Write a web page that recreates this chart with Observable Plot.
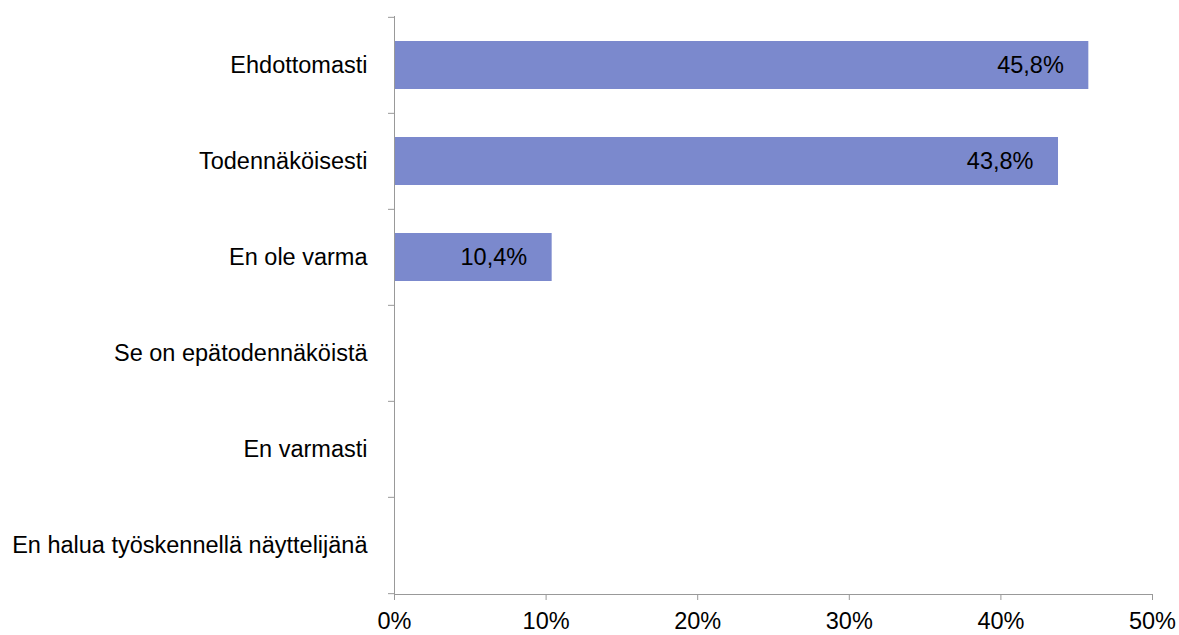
<!DOCTYPE html>
<html>
<head>
<meta charset="utf-8">
<script src="https://cdn.jsdelivr.net/npm/d3@7"></script>
<script src="https://cdn.jsdelivr.net/npm/@observablehq/plot@0.6"></script>
<style>
  html, body { margin: 0; padding: 0; background: #fff; }
  #chart { width: 1179px; height: 635px; }
</style>
</head>
<body>
<div id="chart"></div>
<script>
const categories = ["Ehdottomasti", "Todennäköisesti", "En ole varma", "Se on epätodennäköistä", "En varmasti", "En halua työskennellä näyttelijänä"];
const values = [45.8, 43.8, 10.4, 0, 0, 0];
const xTicks = [0, 10, 20, 30, 40, 50];

const data = categories.map((c, i) => ({category: c, value: values[i]}));
const shown = data.filter(d => d.value > 0);

const W = 1179, H = 635;
const mTop = 16, mBottom = 41;
const step = (H - mTop - mBottom) / categories.length;
const FS = 23.5;

const chart = Plot.plot({
  width: W,
  height: H,
  marginLeft: 394,
  marginRight: 27,
  marginTop: mTop,
  marginBottom: mBottom,
  style: {fontFamily: "'Liberation Sans', Arial, sans-serif", fontSize: FS + "px", color: "black", background: "white", overflow: "visible"},
  x: {domain: [0, 50], label: null},
  y: {domain: categories, paddingInner: 0.5, paddingOuter: 0.25, label: null},
  marks: [
    Plot.barX(shown, {x: "value", y: "category", fill: "#7b89cd"}),
    Plot.text(shown, {x: "value", y: "category", text: d => d.value.toFixed(1).replace(".", ",") + "%", textAnchor: "end", dx: -25, fontSize: FS, fill: "black"}),
    Plot.frame({anchor: "left", stroke: "#999"}),
    Plot.frame({anchor: "bottom", stroke: "#999"}),
    Plot.axisY({tickSize: 0, tickPadding: 27, fontSize: FS, label: null}),
    Plot.axisY({text: null, tickSize: 6, stroke: "#999", dy: -step / 2, label: null}),
    Plot.axisY({ticks: [categories[categories.length - 1]], text: null, tickSize: 6, stroke: "#999", dy: step / 2, label: null}),
    Plot.axisX({ticks: xTicks, tickFormat: d => d + "%", tickSize: 6, tickPadding: 12, stroke: "#999", fontSize: FS, label: null})
  ]
});
document.getElementById("chart").appendChild(chart);
</script>
</body>
</html>
